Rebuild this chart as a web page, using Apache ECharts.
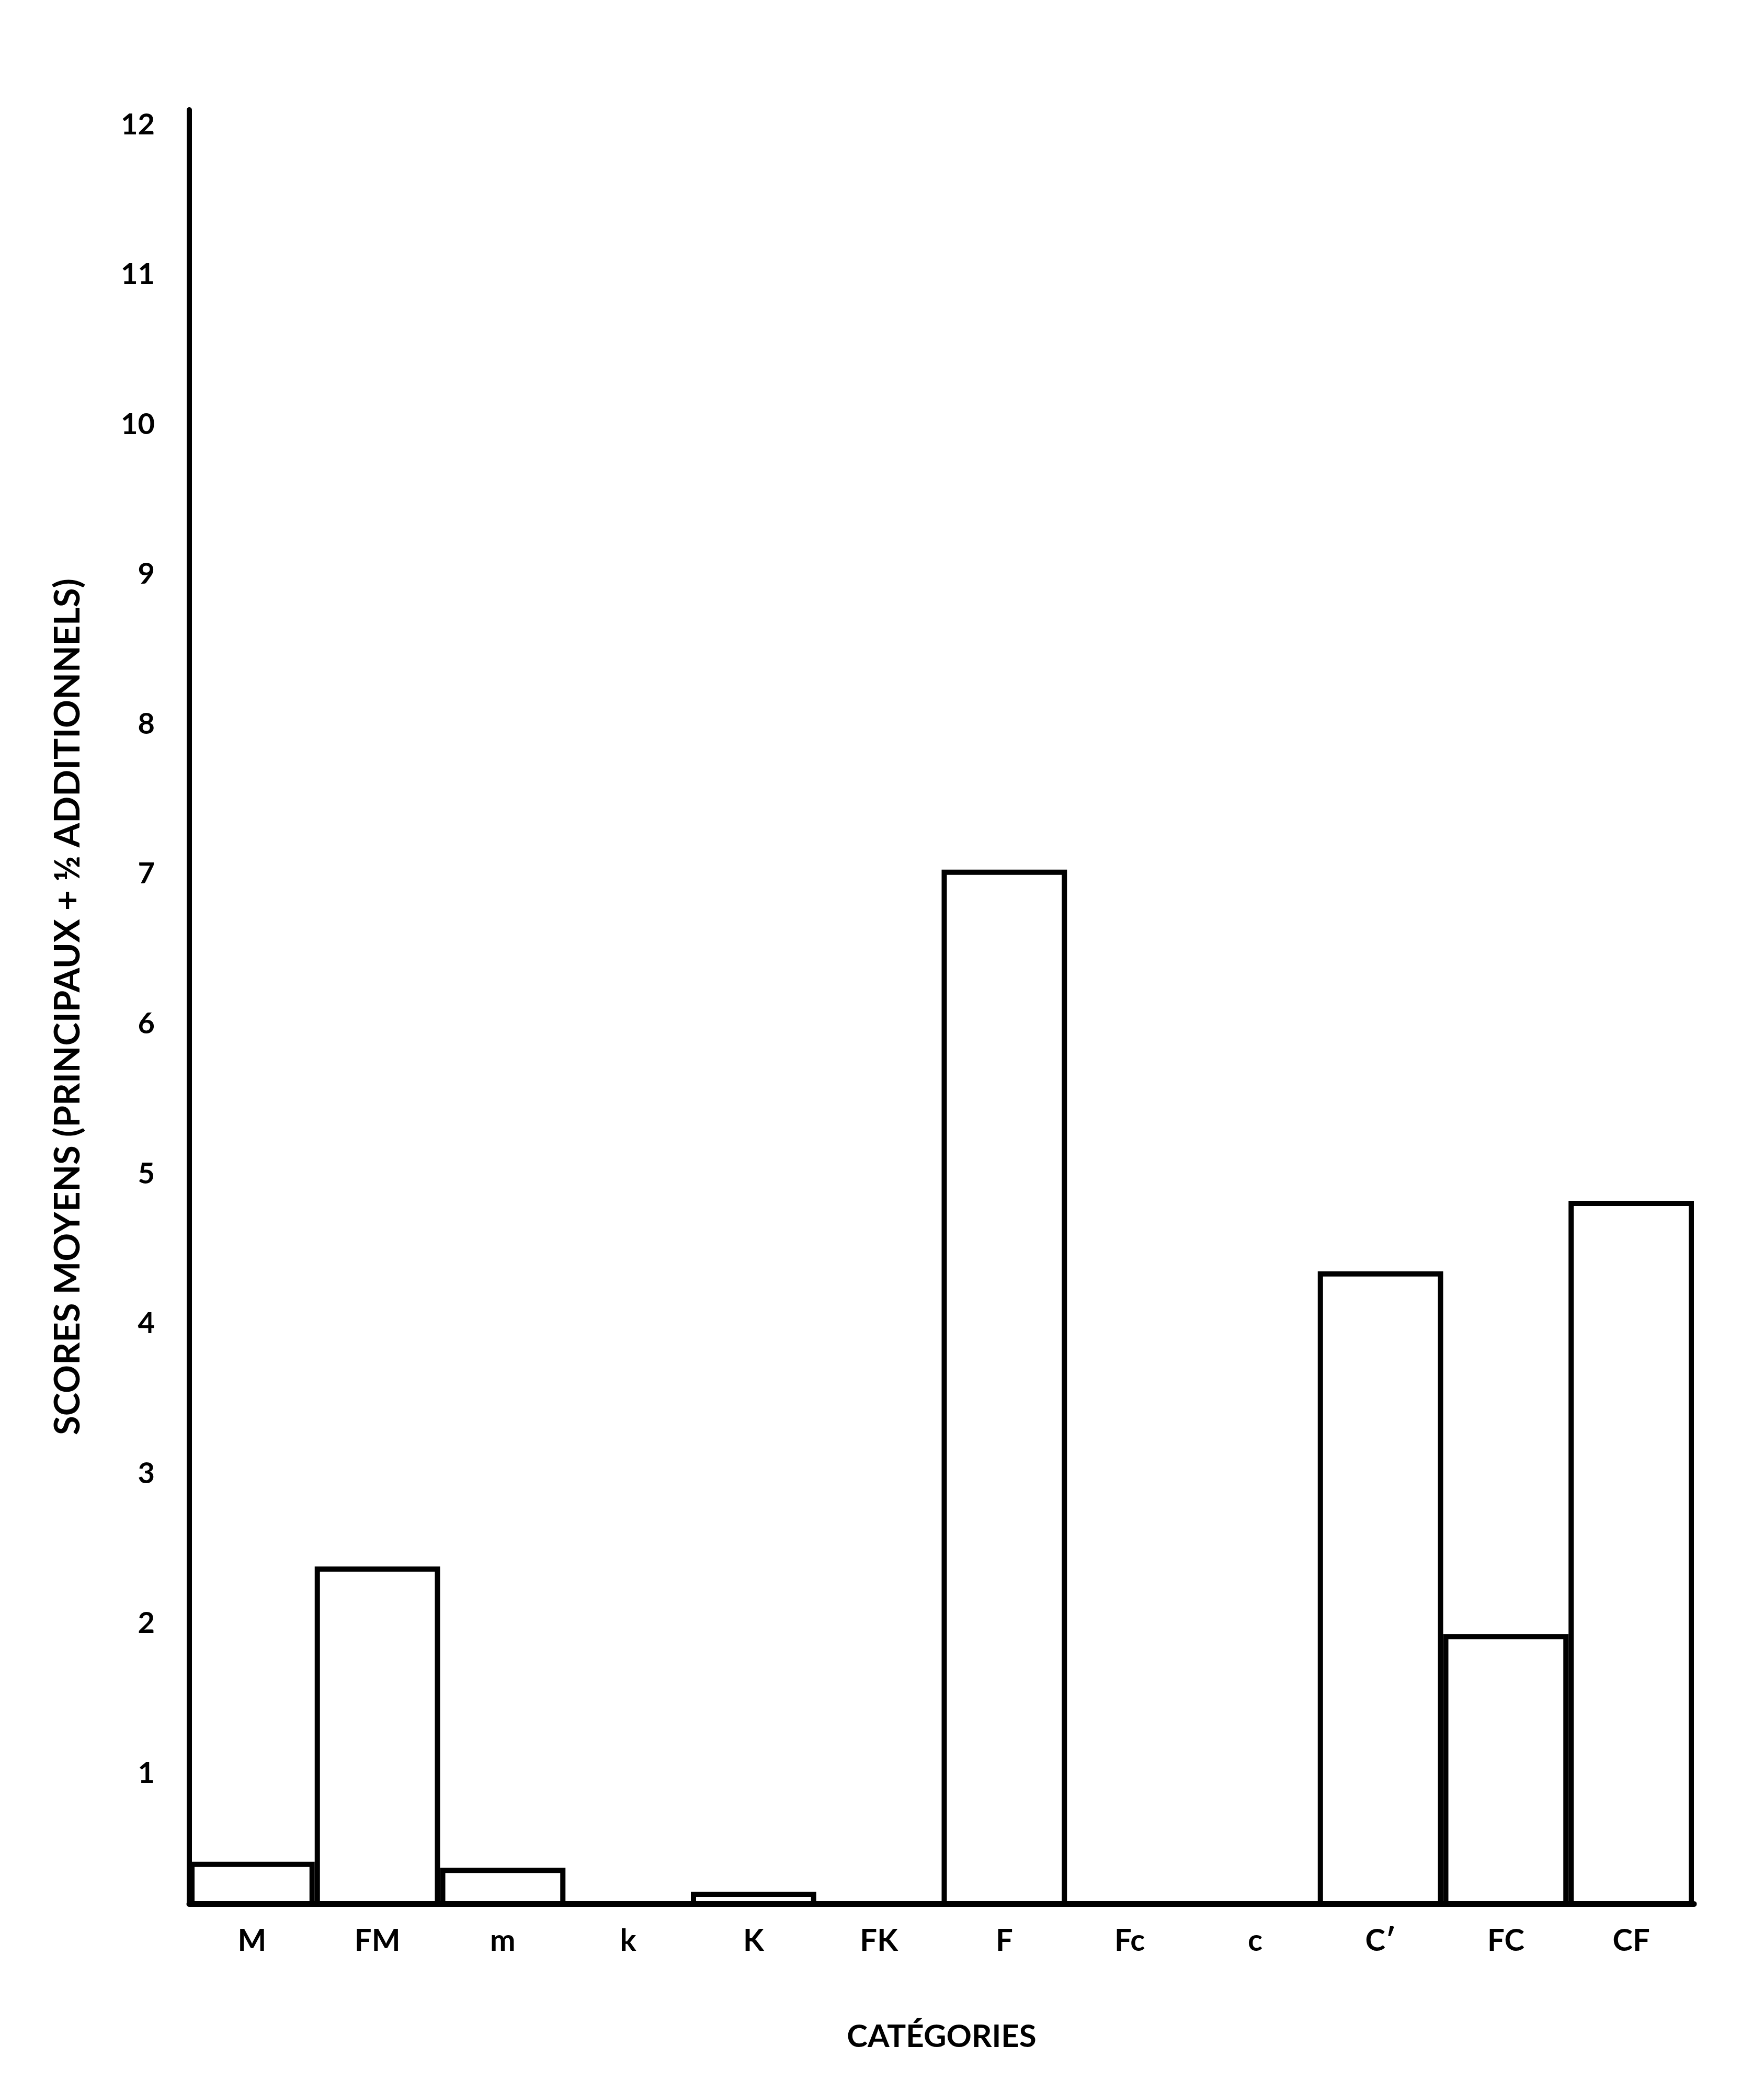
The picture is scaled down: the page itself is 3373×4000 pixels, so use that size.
<!DOCTYPE html>
<html>
<head>
<meta charset="utf-8">
<script src="https://cdn.jsdelivr.net/npm/echarts@6/dist/echarts.min.js"></script>
<style>
html,body{margin:0;padding:0;background:#fff;}
#chart{width:3373px;height:4000px;}
</style>
</head>
<body>
<div id="chart"></div>
<script>
const categories = ['M', 'FM', 'm', 'k', 'K', 'FK', 'F', 'Fc', 'c', 'C\u2032', 'FC', 'CF'];
const scores = [0.41, 2.38, 0.37, 0, 0.21, 0, 7.03, 0, 0, 4.35, 1.93, 4.82];
const yTickValues = [1, 2, 3, 4, 5, 6, 7, 8, 9, 10, 11, 12];
const yAxisTitle = 'SCORES MOYENS (PRINCIPAUX + \u00BD ADDITIONNELS)';
const xAxisTitle = 'CATÉGORIES';

const chart = echarts.init(document.getElementById('chart'), null, {renderer: 'canvas'});
const font = 'Lato, "Open Sans", "DejaVu Sans", sans-serif';
chart.setOption({
  backgroundColor: '#ffffff',
  animation: false,
  grid: {left: 362, right: 134, top: 210, bottom: 360, containLabel: false},
  xAxis: {
    type: 'category',
    data: categories,
    boundaryGap: true,
    axisLine: {show: true, lineStyle: {color: '#000', width: 11}},
    axisTick: {show: false},
    splitLine: {show: false},
    axisLabel: {color: '#000', fontFamily: font, fontWeight: 'bold', fontSize: 58, margin: 42},
    name: xAxisTitle,
    nameLocation: 'middle',
    nameGap: 225,
    nameTextStyle: {color: '#000', fontFamily: font, fontWeight: 'bold', fontSize: 60}
  },
  yAxis: {
    type: 'value',
    min: 0.13,
    max: 12.1,
    axisLine: {show: true, lineStyle: {color: '#000', width: 10}},
    axisTick: {show: false},
    splitLine: {show: false},
    axisLabel: {
      color: '#000', fontFamily: font, fontWeight: 'bold', fontSize: 56, margin: 66,
      customValues: yTickValues
    },
    name: yAxisTitle,
    nameLocation: 'middle',
    nameRotate: 90,
    nameGap: 198,
    nameTextStyle: {color: '#000', fontFamily: font, fontWeight: 'bold', fontSize: 67}
  },
  series: [{
    type: 'bar',
    data: scores,
    barCategoryGap: '0%',
    clip: true,
    itemStyle: {color: '#ffffff', borderColor: '#000000', borderWidth: 10}
  }]
});
</script>
</body>
</html>
